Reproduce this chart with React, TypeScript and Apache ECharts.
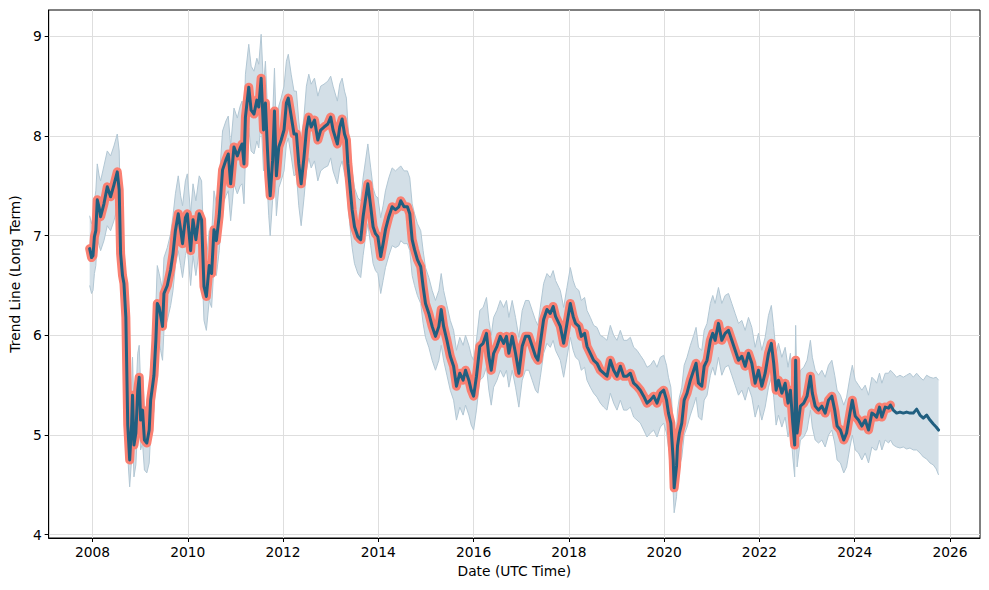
import { useEffect, useRef } from "react";
import * as echarts from "echarts";

// ---- observed history (decimal year / value) ----
const historyYears = [
  // 2008 - 2011
  2007.94, 2007.98, 2008.01, 2008.04, 2008.07, 2008.10, 2008.14, 2008.17, 2008.24, 2008.31,
  2008.38, 2008.45, 2008.52, 2008.56, 2008.59, 2008.63, 2008.66, 2008.70, 2008.74, 2008.78,
  2008.82, 2008.84, 2008.87, 2008.91, 2008.95, 2008.98, 2009.01, 2009.05, 2009.09, 2009.14,
  2009.19, 2009.22, 2009.26, 2009.29, 2009.33, 2009.36, 2009.40, 2009.43, 2009.47, 2009.50,
  2009.57, 2009.64, 2009.69, 2009.74, 2009.80, 2009.85, 2009.89, 2009.95, 2009.99, 2010.06,
  2010.11, 2010.17, 2010.24, 2010.29, 2010.34, 2010.39, 2010.45, 2010.50, 2010.55, 2010.60,
  2010.66, 2010.73, 2010.80, 2010.85, 2010.90, 2010.97, 2011.04, 2011.10,
  // 2011 - 2014
  2011.14, 2011.18, 2011.21, 2011.28, 2011.33, 2011.39, 2011.45, 2011.49, 2011.54, 2011.59,
  2011.63, 2011.67, 2011.70, 2011.73, 2011.78, 2011.82, 2011.86, 2011.91, 2011.96, 2012.02,
  2012.07, 2012.11, 2012.17, 2012.23, 2012.28, 2012.33, 2012.38, 2012.44, 2012.49, 2012.54,
  2012.59, 2012.66, 2012.73, 2012.79, 2012.86, 2012.94, 2013.00, 2013.05, 2013.14, 2013.19,
  2013.24, 2013.29, 2013.33, 2013.36, 2013.40, 2013.45, 2013.50, 2013.57, 2013.63, 2013.68,
  2013.73, 2013.78, 2013.84, 2013.89, 2013.94, 2013.99, 2014.05, 2014.10, 2014.15, 2014.22,
  2014.29, 2014.36, 2014.43,
  // 2014 - 2017
  2014.47, 2014.54, 2014.61, 2014.66, 2014.71, 2014.76, 2014.82, 2014.89, 2014.94, 2014.99,
  2015.06, 2015.13, 2015.20, 2015.27, 2015.32, 2015.37, 2015.44, 2015.51, 2015.58, 2015.64,
  2015.71, 2015.78, 2015.83, 2015.90, 2015.95, 2016.00, 2016.06, 2016.13, 2016.20, 2016.27,
  2016.32, 2016.37, 2016.42, 2016.49, 2016.56, 2016.63, 2016.69, 2016.74, 2016.81, 2016.88,
  2016.95, 2017.02, 2017.09, 2017.16, 2017.23, 2017.30, 2017.35, 2017.40, 2017.47, 2017.54,
  2017.61, 2017.67, 2017.72, 2017.79,
  // 2017 - 2021
  2017.82, 2017.89, 2017.96, 2018.03, 2018.09, 2018.14, 2018.21, 2018.26, 2018.33, 2018.38,
  2018.45, 2018.52, 2018.59, 2018.66, 2018.73, 2018.80, 2018.87, 2018.94, 2019.01, 2019.08,
  2019.15, 2019.22, 2019.29, 2019.36, 2019.43, 2019.50, 2019.57, 2019.64, 2019.71, 2019.78,
  2019.85, 2019.92, 2019.99, 2020.05, 2020.09, 2020.14, 2020.19, 2020.21, 2020.26, 2020.28,
  2020.32, 2020.37, 2020.42, 2020.48, 2020.55, 2020.62, 2020.67, 2020.72, 2020.79, 2020.84,
  2020.90, 2020.97, 2021.02, 2021.07,
  // 2021 - 2024
  2021.14, 2021.21, 2021.28, 2021.35, 2021.42, 2021.49, 2021.56, 2021.63, 2021.70, 2021.77,
  2021.84, 2021.91, 2021.98, 2022.05, 2022.12, 2022.19, 2022.25, 2022.30, 2022.35, 2022.40,
  2022.47, 2022.54, 2022.60, 2022.65, 2022.70, 2022.74, 2022.76, 2022.79, 2022.86, 2022.93,
  2023.00, 2023.07, 2023.11, 2023.17, 2023.24, 2023.31, 2023.38, 2023.45, 2023.52, 2023.58,
  2023.63, 2023.70, 2023.77, 2023.83, 2023.90, 2023.95, 2024.01, 2024.08, 2024.15, 2024.22,
  2024.29, 2024.36, 2024.42, 2024.46, 2024.52, 2024.57, 2024.64, 2024.71, 2024.75,
];

const historyValues = [
  6.87, 6.78, 6.80, 6.99, 7.05, 7.36, 7.28, 7.19, 7.32, 7.49,
  7.39, 7.51, 7.64, 7.46, 6.82, 6.60, 6.52, 6.18, 5.10, 4.75,
  5.10, 5.40, 4.90, 5.02, 5.45, 5.58, 5.15, 5.25, 4.95, 4.92,
  5.05, 5.35, 5.49, 5.60, 5.95, 6.32, 6.28, 6.20, 6.09, 6.42,
  6.50, 6.66, 6.82, 7.05, 7.22, 7.06, 6.92, 7.18, 7.22, 6.85,
  7.16, 6.96, 7.22, 7.16, 6.49, 6.39, 6.70, 6.62, 7.06, 6.95,
  7.20, 7.66, 7.76, 7.82, 7.52, 7.89, 7.80, 7.88,

  7.92, 7.72, 8.19, 8.49, 8.26, 8.22, 8.36, 8.29, 8.58, 8.06,
  8.33, 7.89, 7.60, 7.40, 7.75, 8.25, 7.60, 7.89, 7.96, 8.06,
  8.33, 8.38, 8.20, 8.02, 8.02, 7.72, 7.52, 7.79, 8.06, 8.19,
  8.09, 8.16, 7.96, 8.06, 8.09, 8.12, 8.19, 8.06, 7.92, 8.09,
  8.17, 8.02, 7.96, 7.72, 7.52, 7.26, 7.09, 6.99, 6.96, 7.19,
  7.36, 7.52, 7.29, 7.09, 7.02, 6.99, 6.79, 6.92, 7.06, 7.19,
  7.29, 7.26, 7.29,

  7.35, 7.29, 7.29, 7.22, 6.96, 6.86, 6.76, 6.69, 6.49, 6.32,
  6.22, 6.09, 5.99, 6.09, 6.26, 6.09, 5.95, 5.79, 5.69, 5.49,
  5.62, 5.55, 5.65, 5.55, 5.45, 5.39, 5.59, 5.89, 5.92, 6.02,
  5.79, 5.65, 5.82, 5.89, 5.99, 5.92, 5.99, 5.82, 5.99, 5.82,
  5.62, 5.89, 5.99, 5.99, 5.89, 5.79, 5.75, 5.92, 6.16, 6.26,
  6.22, 6.29, 6.19, 6.12,

  6.09, 5.92, 6.12, 6.32, 6.19, 6.12, 6.09, 5.99, 6.02, 5.89,
  5.82, 5.75, 5.72, 5.65, 5.62, 5.59, 5.75, 5.65, 5.59, 5.69,
  5.59, 5.59, 5.62, 5.52, 5.49, 5.45, 5.39, 5.32, 5.35, 5.39,
  5.32, 5.42, 5.45, 5.35, 5.22, 5.12, 4.75, 4.47, 4.69, 4.89,
  5.02, 5.12, 5.35, 5.42, 5.55, 5.65, 5.72, 5.52, 5.49, 5.69,
  5.75, 5.95, 6.02, 5.95,

  6.12, 5.95, 6.02, 6.05, 5.95, 5.85, 5.75, 5.79, 5.69, 5.82,
  5.72, 5.52, 5.65, 5.49, 5.62, 5.82, 5.92, 5.72, 5.45, 5.55,
  5.42, 5.52, 5.32, 5.45, 5.12, 4.90, 5.75, 5.02, 5.29, 5.32,
  5.39, 5.59, 5.42, 5.29, 5.25, 5.29, 5.22, 5.35, 5.39, 5.25,
  5.09, 5.05, 4.95, 5.02, 5.22, 5.35, 5.19, 5.15, 5.09, 5.15,
  5.05, 5.22, 5.20, 5.18, 5.28, 5.18, 5.28, 5.27, 5.30,
];

// ---- forecast ----
const forecastYears = [
  2024.81, 2024.88, 2024.95, 2025.02, 2025.09, 2025.16, 2025.23, 2025.30, 2025.37, 2025.44,
  2025.51, 2025.58, 2025.65, 2025.71, 2025.76,
];
const forecastValues = [
  5.25, 5.22, 5.23, 5.22, 5.23, 5.22, 5.22, 5.26, 5.20, 5.17,
  5.20, 5.15, 5.11, 5.08, 5.05,
];

// ---- uncertainty band (history then forecast) ----
const lowerBound = [
  6.50, 6.42, 6.45, 6.62, 6.70, 6.98, 6.90, 6.85, 6.95, 7.10,
  7.05, 7.15, 7.28, 7.12, 6.48, 6.25, 6.18, 5.85, 4.78, 4.48,
  4.75, 5.05, 4.58, 4.70, 5.10, 5.22, 4.85, 4.92, 4.65, 4.62,
  4.72, 5.00, 5.15, 5.25, 5.58, 5.95, 5.92, 5.85, 5.75, 6.05,
  6.15, 6.30, 6.45, 6.70, 6.85, 6.70, 6.58, 6.80, 6.88, 6.50,
  6.80, 6.60, 6.85, 6.80, 6.15, 6.05, 6.35, 6.28, 6.70, 6.60,
  6.85, 7.30, 7.40, 7.45, 7.15, 7.52, 7.42, 7.50,

  7.52, 7.32, 7.78, 8.08, 7.85, 7.82, 7.95, 7.88, 8.15, 7.65,
  7.92, 7.48, 7.20, 7.00, 7.35, 7.85, 7.20, 7.48, 7.55, 7.65,
  7.92, 7.98, 7.80, 7.60, 7.62, 7.30, 7.10, 7.38, 7.65, 7.78,
  7.68, 7.75, 7.55, 7.65, 7.68, 7.70, 7.78, 7.65, 7.52, 7.68,
  7.75, 7.62, 7.55, 7.32, 7.12, 6.88, 6.72, 6.62, 6.58, 6.80,
  6.98, 7.12, 6.90, 6.72, 6.65, 6.62, 6.42, 6.55, 6.68, 6.80,
  6.90, 6.88, 6.90,

  6.95, 6.92, 6.92, 6.85, 6.60, 6.50, 6.40, 6.32, 6.12, 5.98,
  5.88, 5.75, 5.65, 5.75, 5.90, 5.75, 5.60, 5.45, 5.35, 5.15,
  5.28, 5.20, 5.30, 5.20, 5.10, 5.05, 5.25, 5.55, 5.58, 5.68,
  5.45, 5.30, 5.48, 5.55, 5.65, 5.58, 5.65, 5.48, 5.65, 5.48,
  5.28, 5.55, 5.65, 5.65, 5.55, 5.45, 5.42, 5.58, 5.82, 5.92,
  5.88, 5.95, 5.85, 5.78,

  5.75, 5.58, 5.78, 5.98, 5.85, 5.78, 5.75, 5.65, 5.68, 5.55,
  5.48, 5.42, 5.38, 5.32, 5.28, 5.25, 5.42, 5.32, 5.25, 5.35,
  5.25, 5.25, 5.28, 5.18, 5.15, 5.12, 5.05, 4.98, 5.02, 5.05,
  4.98, 5.08, 5.12, 5.02, 4.88, 4.78, 4.42, 4.22, 4.38, 4.55,
  4.68, 4.78, 5.00, 5.08, 5.20, 5.30, 5.38, 5.18, 5.15, 5.35,
  5.40, 5.60, 5.68, 5.60,

  5.78, 5.60, 5.68, 5.70, 5.60, 5.50, 5.40, 5.45, 5.35, 5.48,
  5.38, 5.18, 5.30, 5.15, 5.28, 5.48, 5.58, 5.38, 5.10, 5.20,
  5.08, 5.18, 4.98, 5.10, 4.78, 4.58, 5.40, 4.68, 4.95, 4.98,
  5.05, 5.25, 5.08, 4.95, 4.92, 4.95, 4.88, 5.00, 5.05, 4.92,
  4.75, 4.72, 4.62, 4.68, 4.88, 5.00, 4.85, 4.82, 4.75, 4.82,
  4.72, 4.88, 4.85, 4.85, 4.95, 4.85, 4.95, 4.92, 4.95,

  4.90, 4.88, 4.87, 4.88, 4.86, 4.87, 4.85, 4.85, 4.82, 4.78,
  4.76, 4.72, 4.70, 4.66, 4.60,
];

const upperBound = [
  7.20, 7.12, 7.18, 7.35, 7.45, 7.72, 7.60, 7.55, 7.70, 7.85,
  7.80, 7.90, 8.02, 7.85, 7.20, 6.95, 6.88, 6.55, 5.45, 5.10,
  5.45, 5.78, 5.25, 5.40, 5.82, 5.90, 5.50, 5.60, 5.30, 5.25,
  5.40, 5.70, 5.85, 5.95, 6.30, 6.70, 6.62, 6.55, 6.45, 6.78,
  6.88, 7.02, 7.20, 7.42, 7.60, 7.40, 7.30, 7.55, 7.62, 7.22,
  7.52, 7.35, 7.60, 7.55, 6.85, 6.75, 7.05, 7.00, 7.45, 7.32,
  7.55, 8.05, 8.15, 8.20, 7.90, 8.28, 8.18, 8.30,

  8.35, 8.15, 8.62, 8.92, 8.70, 8.65, 8.78, 8.72, 9.02, 8.50,
  8.75, 8.30, 8.05, 7.82, 8.18, 8.68, 8.02, 8.30, 8.38, 8.50,
  8.75, 8.82, 8.62, 8.45, 8.45, 8.15, 7.95, 8.20, 8.50, 8.62,
  8.52, 8.58, 8.40, 8.50, 8.52, 8.55, 8.60, 8.50, 8.35, 8.52,
  8.58, 8.45, 8.38, 8.12, 7.92, 7.65, 7.48, 7.38, 7.35, 7.58,
  7.75, 7.92, 7.68, 7.48, 7.40, 7.38, 7.18, 7.30, 7.45, 7.58,
  7.68, 7.65, 7.68,

  7.70, 7.65, 7.65, 7.58, 7.32, 7.22, 7.12, 7.05, 6.85, 6.68,
  6.58, 6.45, 6.35, 6.45, 6.62, 6.45, 6.30, 6.15, 6.05, 5.85,
  5.98, 5.90, 6.00, 5.90, 5.80, 5.75, 5.95, 6.25, 6.28, 6.38,
  6.15, 6.00, 6.18, 6.25, 6.35, 6.28, 6.35, 6.18, 6.35, 6.18,
  5.98, 6.25, 6.35, 6.35, 6.25, 6.15, 6.10, 6.28, 6.52, 6.62,
  6.58, 6.65, 6.55, 6.48,

  6.45, 6.28, 6.48, 6.68, 6.55, 6.48, 6.45, 6.35, 6.38, 6.25,
  6.18, 6.10, 6.08, 6.00, 5.98, 5.95, 6.10, 6.00, 5.95, 6.05,
  5.95, 5.95, 5.98, 5.88, 5.85, 5.80, 5.75, 5.68, 5.70, 5.75,
  5.68, 5.78, 5.80, 5.70, 5.58, 5.48, 5.10, 4.82, 5.05, 5.25,
  5.38, 5.48, 5.70, 5.78, 5.90, 6.00, 6.08, 5.88, 5.85, 6.05,
  6.12, 6.32, 6.40, 6.32,

  6.48, 6.32, 6.40, 6.42, 6.32, 6.22, 6.12, 6.15, 6.05, 6.18,
  6.08, 5.88, 6.02, 5.85, 5.98, 6.20, 6.30, 6.08, 5.82, 5.92,
  5.78, 5.88, 5.68, 5.82, 5.48, 5.25, 6.10, 5.38, 5.65, 5.68,
  5.75, 5.95, 5.78, 5.65, 5.60, 5.65, 5.58, 5.70, 5.75, 5.60,
  5.45, 5.40, 5.30, 5.38, 5.58, 5.70, 5.55, 5.50, 5.45, 5.50,
  5.40, 5.58, 5.55, 5.52, 5.62, 5.52, 5.62, 5.62, 5.65,

  5.62, 5.58, 5.60, 5.58, 5.60, 5.62, 5.58, 5.62, 5.58, 5.55,
  5.60, 5.58, 5.57, 5.58, 5.55,
];

const xTickLabels = [2008, 2010, 2012, 2014, 2016, 2018, 2020, 2022, 2024, 2026];
const yTickLabels = [4, 5, 6, 7, 8, 9];

const FONT = "DejaVu Sans";
const FONT_SIZE = 13.8;

export default function App() {
  const ref = useRef<HTMLDivElement>(null);

  useEffect(() => {
    if (!ref.current) return;
    const chart = echarts.init(ref.current, null, { renderer: "svg" });

    const allYears = historyYears.concat(forecastYears);
    const trendData = historyValues.concat(forecastValues).map((v, i) => [allYears[i], v]);
    const observedData = historyValues.map((v, i) => [historyYears[i], v]);
    const n = Math.min(allYears.length, lowerBound.length, upperBound.length);

    chart.setOption({
      animation: false,
      grid: {
        left: 48,
        right: 9,
        top: 10,
        bottom: 52,
        show: true,
        borderColor: "#000",
        borderWidth: 1,
        backgroundColor: "transparent",
      },
      xAxis: {
        type: "value",
        min: 2007.08,
        max: 2026.63,
        splitNumber: 10,
        minInterval: 2,
        maxInterval: 2,
        axisLine: { show: true, onZero: false, lineStyle: { color: "#000", width: 1 } },
        axisTick: { show: true, length: 4, lineStyle: { color: "#000", width: 1 }, customValues: xTickLabels },
        axisLabel: {
          customValues: xTickLabels,
          color: "#000",
          fontFamily: FONT,
          fontSize: FONT_SIZE,
          margin: 7,
          formatter: (v: number) => String(Math.round(v)),
        },
        splitLine: { show: true, lineStyle: { color: "#dedede", width: 1 } },
        name: "Date (UTC Time)",
        nameLocation: "middle",
        nameGap: 26,
        nameTextStyle: { color: "#000", fontFamily: FONT, fontSize: FONT_SIZE },
      },
      yAxis: {
        type: "value",
        min: 3.967,
        max: 9.264,
        splitNumber: 6,
        minInterval: 1,
        maxInterval: 1,
        axisLine: { show: true, onZero: false, lineStyle: { color: "#000", width: 1 } },
        axisTick: { show: true, length: 4, lineStyle: { color: "#000", width: 1 }, customValues: yTickLabels },
        axisLabel: {
          customValues: yTickLabels,
          color: "#000",
          fontFamily: FONT,
          fontSize: FONT_SIZE,
          margin: 7,
          formatter: (v: number) => String(Math.round(v)),
        },
        splitLine: { show: true, lineStyle: { color: "#dedede", width: 1 } },
        name: "Trend Line (Long Term)",
        nameLocation: "middle",
        nameRotate: 90,
        nameGap: 26,
        nameTextStyle: { color: "#000", fontFamily: FONT, fontSize: FONT_SIZE },
      },
      series: [
        {
          type: "custom",
          silent: true,
          clip: true,
          z: 1,
          data: [[allYears[0], lowerBound[0]]],
          renderItem: (_params: any, api: any) => {
            const up: number[][] = [];
            const lo: number[][] = [];
            for (let i = 0; i < n; i++) {
              up.push(api.coord([allYears[i], upperBound[i]]));
              lo.push(api.coord([allYears[i], lowerBound[i]]));
            }
            return {
              type: "group",
              children: [
                {
                  type: "polygon",
                  shape: { points: up.concat(lo.slice().reverse()) },
                  style: { fill: "#d3dfe7", stroke: "none" },
                },
                {
                  type: "polyline",
                  shape: { points: up },
                  style: { stroke: "#b2c7d4", lineWidth: 1, fill: "none" },
                },
                {
                  type: "polyline",
                  shape: { points: lo },
                  style: { stroke: "#b2c7d4", lineWidth: 1, fill: "none" },
                },
              ],
            };
          },
        },
        {
          type: "line",
          silent: true,
          z: 2,
          data: observedData,
          symbol: "none",
          showSymbol: false,
          lineStyle: { color: "#fa8072", width: 9, join: "round", cap: "round" },
        },
        {
          type: "line",
          silent: true,
          z: 3,
          data: trendData,
          symbol: "none",
          showSymbol: false,
          lineStyle: { color: "#215f80", width: 3, join: "round", cap: "round" },
        },
      ],
    });

    return () => chart.dispose();
  }, []);

  return (
    <div
      ref={ref}
      style={{ position: "absolute", left: 0, top: 0, width: 989, height: 590 }}
    />
  );
}
